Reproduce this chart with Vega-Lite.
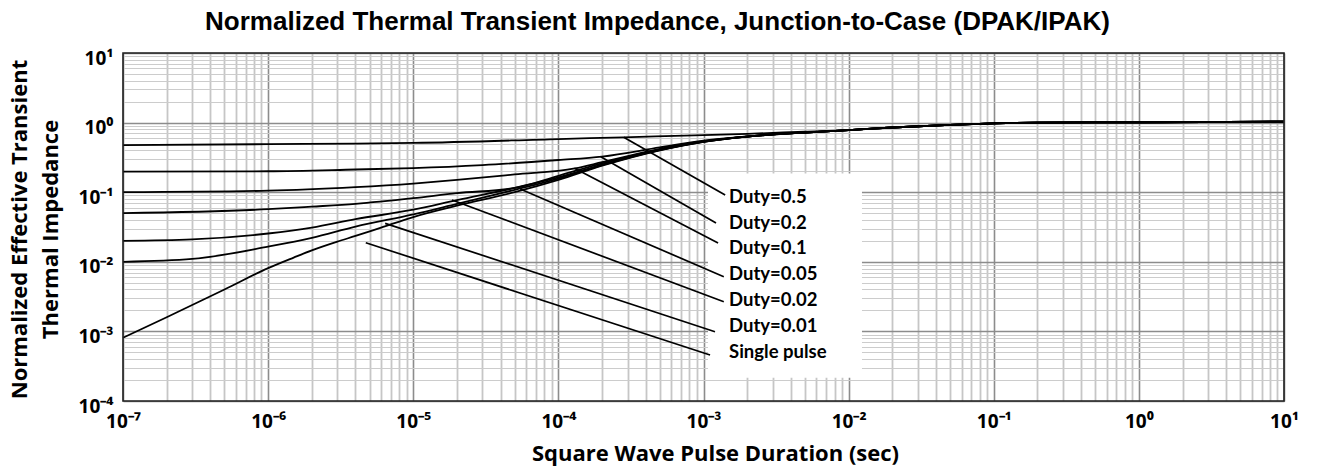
{
 "$schema": "https://vega.github.io/schema/vega-lite/v6.json",
 "width": 1161,
 "height": 348,
 "autosize": {"type": "none"},
 "padding": {"left": 123, "top": 53, "right": 35, "bottom": 75},
 "background": "white",
 "title": {"text": "Normalized Thermal Transient Impedance, Junction-to-Case (DPAK/IPAK)", "font": "Liberation Sans", "fontSize": 26, "fontWeight": "bold", "color": "black", "anchor": "middle", "dx": -46, "offset": 14},
 "config": {"view": {"stroke": null}, "font": "Open Sans"},
 "datasets": {
  "curves": [
   {"s":"S","t":1e-7,"z":0.00081},{"s":"S","t":2e-7,"z":0.0016},{"s":"S","t":5e-7,"z":0.004},{"s":"S","t":1e-6,"z":0.0081},{"s":"S","t":1.5e-6,"z":0.0115},{"s":"S","t":2e-6,"z":0.0146},{"s":"S","t":3e-6,"z":0.0195},{"s":"S","t":4e-6,"z":0.0235},{"s":"S","t":6e-6,"z":0.031},{"s":"S","t":1e-5,"z":0.044},{"s":"S","t":2e-5,"z":0.064},{"s":"S","t":5e-5,"z":0.1},{"s":"S","t":1e-4,"z":0.15},{"s":"S","t":2e-4,"z":0.24},{"s":"S","t":5e-4,"z":0.4},{"s":"S","t":1e-3,"z":0.53},{"s":"S","t":2e-3,"z":0.63},{"s":"S","t":5e-3,"z":0.72},{"s":"S","t":1e-2,"z":0.78},{"s":"S","t":2e-2,"z":0.85},{"s":"S","t":5e-2,"z":0.93},{"s":"S","t":0.1,"z":0.975},{"s":"S","t":0.2,"z":1.0},{"s":"S","t":0.5,"z":1.01},{"s":"S","t":1,"z":1.01},{"s":"S","t":2,"z":1.015},{"s":"S","t":5,"z":1.025},{"s":"S","t":10,"z":1.03},
   {"s":"D01","t":1e-7,"z":0.01},{"s":"D01","t":3e-7,"z":0.011},{"s":"D01","t":1e-6,"z":0.0165},{"s":"D01","t":2e-6,"z":0.022},{"s":"D01","t":4e-6,"z":0.032},{"s":"D01","t":1e-5,"z":0.048},{"s":"D01","t":2e-5,"z":0.068},{"s":"D01","t":5e-5,"z":0.108},{"s":"D01","t":1e-4,"z":0.157},{"s":"D01","t":2e-4,"z":0.245},{"s":"D01","t":5e-4,"z":0.402},{"s":"D01","t":1e-3,"z":0.53},{"s":"D01","t":2e-3,"z":0.63},{"s":"D01","t":5e-3,"z":0.72},{"s":"D01","t":1e-2,"z":0.78},{"s":"D01","t":2e-2,"z":0.85},{"s":"D01","t":5e-2,"z":0.93},{"s":"D01","t":0.1,"z":0.975},{"s":"D01","t":0.2,"z":1.0},{"s":"D01","t":1,"z":1.01},{"s":"D01","t":10,"z":1.03},
   {"s":"D02","t":1e-7,"z":0.02},{"s":"D02","t":3e-7,"z":0.021},{"s":"D02","t":1e-6,"z":0.0255},{"s":"D02","t":2e-6,"z":0.031},{"s":"D02","t":4e-6,"z":0.041},{"s":"D02","t":1e-5,"z":0.056},{"s":"D02","t":2e-5,"z":0.077},{"s":"D02","t":5e-5,"z":0.115},{"s":"D02","t":1e-4,"z":0.163},{"s":"D02","t":2e-4,"z":0.25},{"s":"D02","t":5e-4,"z":0.405},{"s":"D02","t":1e-3,"z":0.532},{"s":"D02","t":2e-3,"z":0.63},{"s":"D02","t":5e-3,"z":0.72},{"s":"D02","t":1e-2,"z":0.78},{"s":"D02","t":2e-2,"z":0.85},{"s":"D02","t":5e-2,"z":0.93},{"s":"D02","t":0.1,"z":0.975},{"s":"D02","t":0.2,"z":1.0},{"s":"D02","t":1,"z":1.01},{"s":"D02","t":10,"z":1.03},
   {"s":"D05","t":1e-7,"z":0.05},{"s":"D05","t":1e-6,"z":0.057},{"s":"D05","t":2e-6,"z":0.062},{"s":"D05","t":4e-6,"z":0.068},{"s":"D05","t":1e-5,"z":0.082},{"s":"D05","t":2e-5,"z":0.097},{"s":"D05","t":5e-5,"z":0.115},{"s":"D05","t":1e-4,"z":0.172},{"s":"D05","t":2e-4,"z":0.26},{"s":"D05","t":5e-4,"z":0.41},{"s":"D05","t":1e-3,"z":0.535},{"s":"D05","t":2e-3,"z":0.63},{"s":"D05","t":5e-3,"z":0.72},{"s":"D05","t":1e-2,"z":0.78},{"s":"D05","t":2e-2,"z":0.85},{"s":"D05","t":5e-2,"z":0.93},{"s":"D05","t":0.1,"z":0.975},{"s":"D05","t":0.2,"z":1.0},{"s":"D05","t":1,"z":1.01},{"s":"D05","t":10,"z":1.03},
   {"s":"D1","t":1e-7,"z":0.1},{"s":"D1","t":1e-6,"z":0.105},{"s":"D1","t":4e-6,"z":0.118},{"s":"D1","t":1e-5,"z":0.133},{"s":"D1","t":2e-5,"z":0.15},{"s":"D1","t":5e-5,"z":0.18},{"s":"D1","t":1.3e-4,"z":0.22},{"s":"D1","t":2e-4,"z":0.27},{"s":"D1","t":5e-4,"z":0.42},{"s":"D1","t":1e-3,"z":0.54},{"s":"D1","t":2e-3,"z":0.63},{"s":"D1","t":5e-3,"z":0.72},{"s":"D1","t":1e-2,"z":0.78},{"s":"D1","t":2e-2,"z":0.85},{"s":"D1","t":5e-2,"z":0.93},{"s":"D1","t":0.1,"z":0.975},{"s":"D1","t":0.2,"z":1.0},{"s":"D1","t":1,"z":1.01},{"s":"D1","t":10,"z":1.03},
   {"s":"D2","t":1e-7,"z":0.197},{"s":"D2","t":1e-6,"z":0.2},{"s":"D2","t":4e-6,"z":0.212},{"s":"D2","t":1e-5,"z":0.222},{"s":"D2","t":3e-5,"z":0.245},{"s":"D2","t":1e-4,"z":0.29},{"s":"D2","t":2e-4,"z":0.325},{"s":"D2","t":5e-4,"z":0.44},{"s":"D2","t":1e-3,"z":0.55},{"s":"D2","t":2e-3,"z":0.635},{"s":"D2","t":5e-3,"z":0.72},{"s":"D2","t":1e-2,"z":0.78},{"s":"D2","t":2e-2,"z":0.85},{"s":"D2","t":5e-2,"z":0.93},{"s":"D2","t":0.1,"z":0.975},{"s":"D2","t":0.2,"z":1.0},{"s":"D2","t":1,"z":1.01},{"s":"D2","t":10,"z":1.03},
   {"s":"D5","t":1e-7,"z":0.476},{"s":"D5","t":1e-6,"z":0.49},{"s":"D5","t":4e-6,"z":0.5},{"s":"D5","t":1e-5,"z":0.51},{"s":"D5","t":1e-4,"z":0.58},{"s":"D5","t":2.8e-4,"z":0.615},{"s":"D5","t":1e-3,"z":0.66},{"s":"D5","t":2e-3,"z":0.69},{"s":"D5","t":5e-3,"z":0.74},{"s":"D5","t":1e-2,"z":0.78},{"s":"D5","t":2e-2,"z":0.85},{"s":"D5","t":5e-2,"z":0.93},{"s":"D5","t":0.1,"z":0.975},{"s":"D5","t":0.2,"z":1.0},{"s":"D5","t":1,"z":1.01},{"s":"D5","t":10,"z":1.03}
  ],
  "leaders": [
   {"t1":2.82e-4,"z1":0.615,"t2":1.41e-3,"z2":0.0912},
   {"t1":1.96e-4,"z1":0.324,"t2":1.22e-3,"z2":0.0361},
   {"t1":1.29e-4,"z1":0.22,"t2":1.26e-3,"z2":0.0186},
   {"t1":5.46e-5,"z1":0.111,"t2":1.38e-3,"z2":0.00611},
   {"t1":1.85e-5,"z1":0.0773,"t2":1.38e-3,"z2":0.00267},
   {"t1":6.4e-6,"z1":0.0357,"t2":1.2e-3,"z2":0.00099},
   {"t1":4.71e-6,"z1":0.0188,"t2":1.11e-3,"z2":0.000458}
  ],
  "labels": [
   {"label":"Duty=0.5","t":1.5e-3,"z":0.0862},
   {"label":"Duty=0.2","t":1.5e-3,"z":0.0365},
   {"label":"Duty=0.1","t":1.5e-3,"z":0.0156},
   {"label":"Duty=0.05","t":1.5e-3,"z":0.0066},
   {"label":"Duty=0.02","t":1.5e-3,"z":0.00283},
   {"label":"Duty=0.01","t":1.5e-3,"z":0.00121},
   {"label":"Single pulse","t":1.5e-3,"z":0.000501}
  ],
  "box": [{"t1":1.074e-3,"t2":1.236e-2,"z1":0.185,"z2":2.16e-4}],
  "frame": [{"t1":1e-7,"t2":10,"z1":1e-4,"z2":10}]
 },
 "layer": [
  {
   "data": {"name": "curves"},
   "mark": {"type": "line", "color": "black", "strokeWidth": 1.8, "interpolate": "monotone"},
   "encoding": {
    "x": {"field": "t", "type": "quantitative",
     "scale": {"type": "log", "domain": [1e-7, 10], "nice": false, "zero": false},
     "axis": {
      "values": [1e-7,2e-7,3e-7,4e-7,5e-7,6e-7,7e-7,8e-7,9e-7,1e-6,2e-6,3e-6,4e-6,5e-6,6e-6,7e-6,8e-6,9e-6,1e-5,2e-5,3e-5,4e-5,5e-5,6e-5,7e-5,8e-5,9e-5,1e-4,2e-4,3e-4,4e-4,5e-4,6e-4,7e-4,8e-4,9e-4,1e-3,2e-3,3e-3,4e-3,5e-3,6e-3,7e-3,8e-3,9e-3,0.01,0.02,0.03,0.04,0.05,0.06,0.07,0.08,0.09,0.1,0.2,0.3,0.4,0.5,0.6,0.7,0.8,0.9,1,2,3,4,5,6,7,8,9,10],
      "labelExpr": "abs(log(datum.value)/LN10 - round(log(datum.value)/LN10)) > 0.000001 ? '' : round(log(datum.value)/LN10) == -7 ? '10⁻⁷' : round(log(datum.value)/LN10) == -6 ? '10⁻⁶' : round(log(datum.value)/LN10) == -5 ? '10⁻⁵' : round(log(datum.value)/LN10) == -4 ? '10⁻⁴' : round(log(datum.value)/LN10) == -3 ? '10⁻³' : round(log(datum.value)/LN10) == -2 ? '10⁻²' : round(log(datum.value)/LN10) == -1 ? '10⁻¹' : round(log(datum.value)/LN10) == 0 ? '10⁰' : '10¹'",
      "grid": true,
      "gridColor": {"condition": {"test": "abs(log(datum.value)/LN10 - round(log(datum.value)/LN10)) < 0.000001", "value": "#8c8c8c"}, "value": "#c6c6c6"},
      "gridWidth": {"condition": {"test": "abs(log(datum.value)/LN10 - round(log(datum.value)/LN10)) < 0.000001", "value": 1.6}, "value": 1.8},
      "ticks": false, "domain": false,
      "labelFont": "Open Sans", "labelFontSize": 19, "labelFontWeight": "bold", "labelColor": "black",
      "labelPadding": 11, "labelFlush": false, "labelOverlap": false, "labelBound": false,
      "title": "Square Wave Pulse Duration (sec)", "titleFont": "Open Sans", "titleFontSize": 22, "titleFontWeight": "bold", "titleColor": "black",
      "titleX": 592, "titleY": 42, "titleBaseline": "top"
     }},
    "y": {"field": "z", "type": "quantitative",
     "scale": {"type": "log", "domain": [1e-4, 10], "nice": false, "zero": false},
     "axis": {
      "values": [1e-4,2e-4,3e-4,4e-4,5e-4,6e-4,7e-4,8e-4,9e-4,1e-3,2e-3,3e-3,4e-3,5e-3,6e-3,7e-3,8e-3,9e-3,0.01,0.02,0.03,0.04,0.05,0.06,0.07,0.08,0.09,0.1,0.2,0.3,0.4,0.5,0.6,0.7,0.8,0.9,1,2,3,4,5,6,7,8,9,10],
      "labelExpr": "abs(log(datum.value)/LN10 - round(log(datum.value)/LN10)) > 0.000001 ? '' : round(log(datum.value)/LN10) == -4 ? '10⁻⁴' : round(log(datum.value)/LN10) == -3 ? '10⁻³' : round(log(datum.value)/LN10) == -2 ? '10⁻²' : round(log(datum.value)/LN10) == -1 ? '10⁻¹' : round(log(datum.value)/LN10) == 0 ? '10⁰' : '10¹'",
      "grid": true,
      "gridColor": {"condition": {"test": "abs(log(datum.value)/LN10 - round(log(datum.value)/LN10)) < 0.000001", "value": "#8c8c8c"}, "value": "#cccccc"},
      "gridWidth": {"condition": {"test": "abs(log(datum.value)/LN10 - round(log(datum.value)/LN10)) < 0.000001", "value": 1.4}, "value": 1},
      "ticks": false, "domain": false,
      "labelFont": "Open Sans", "labelFontSize": 19, "labelFontWeight": "bold", "labelColor": "black",
      "labelPadding": 10, "labelOffset": 5, "labelFlush": false, "labelOverlap": false, "labelBound": false,
      "title": ["Normalized Effective Transient", "Thermal Impedance"], "titleFont": "Open Sans", "titleFontSize": 22, "titleFontWeight": "bold", "titleColor": "black",
      "titleLineHeight": 31, "titleAngle": 270, "titleBaseline": "bottom", "titleX": -92, "titleY": 176
     }},
    "detail": {"field": "s"}
   }
  },
  {
   "data": {"name": "frame"},
   "mark": {"type": "rect", "fill": null, "stroke": "#222222", "strokeWidth": 1.6},
   "encoding": {
    "x": {"field": "t1", "type": "quantitative"},
    "x2": {"field": "t2"},
    "y": {"field": "z1", "type": "quantitative"},
    "y2": {"field": "z2"}
   }
  },
  {
   "data": {"name": "box"},
   "mark": {"type": "rect", "fill": "white"},
   "encoding": {
    "x": {"field": "t1", "type": "quantitative"},
    "x2": {"field": "t2"},
    "y": {"field": "z1", "type": "quantitative"},
    "y2": {"field": "z2"}
   }
  },
  {
   "data": {"name": "leaders"},
   "mark": {"type": "rule", "color": "black", "strokeWidth": 1.7},
   "encoding": {
    "x": {"field": "t1", "type": "quantitative"},
    "x2": {"field": "t2"},
    "y": {"field": "z1", "type": "quantitative"},
    "y2": {"field": "z2"}
   }
  },
  {
   "data": {"name": "labels"},
   "mark": {"type": "text", "align": "left", "baseline": "middle", "font": "Lato", "fontSize": 18.5, "fontWeight": "bold", "color": "black"},
   "encoding": {
    "x": {"field": "t", "type": "quantitative"},
    "y": {"field": "z", "type": "quantitative"},
    "text": {"field": "label"}
   }
  }
 ]
}
